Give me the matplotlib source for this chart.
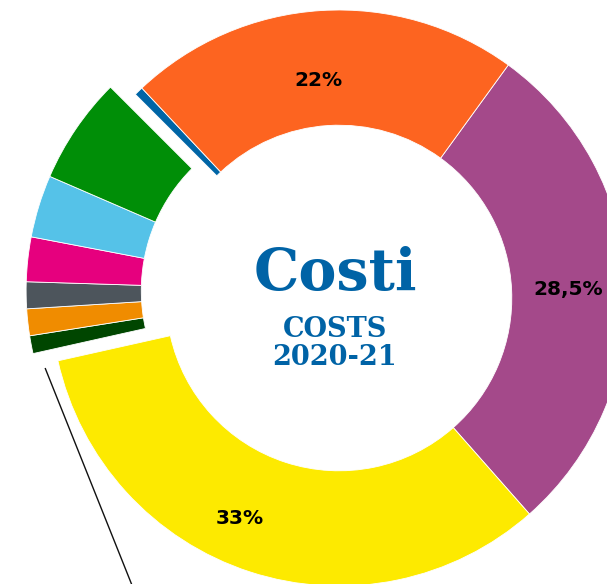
import numpy as np
import matplotlib
matplotlib.use("Agg")
import matplotlib.pyplot as plt

# ---- data ----
categories = ["Purple", "Yellow", "DarkGreen", "SmallOrange", "Gray",
              "Pink", "LightBlue", "Green", "Blue", "Orange"]
values = [28.5, 33, 1, 1.5, 1.5, 2.5, 3.5, 6, 0.5, 22]
colors = ["#a4498a", "#fdea00", "#004600", "#f08c00", "#4d555c",
          "#e6007e", "#55c2e8", "#008e07", "#0065a6", "#fd6420"]
labeled = ["Purple", "Yellow", "Orange"]
group = ["DarkGreen", "SmallOrange", "Gray", "Pink", "LightBlue", "Green"]

title_main = "Costi"
title_sub = ["COSTS", "2020-21"]


def pct_text(v):
    if float(v).is_integer():
        return f"{int(v)}%"
    return f"{v}".replace(".", ",") + "%"


fig = plt.figure(figsize=(6.07, 5.84), dpi=100)
ax = fig.add_axes([0, 0, 1, 1])

wedges, _ = ax.pie(values, colors=colors, startangle=54, counterclock=False,
                   radius=1.0,
                   wedgeprops=dict(width=0.40, edgecolor="white", linewidth=0.6))

# group explode of the small slices
gidx = [categories.index(c) for c in group]
t_lo = min(wedges[i].theta1 for i in gidx)
t_hi = max(wedges[i].theta2 for i in gidx)
gmid = np.deg2rad((t_lo + t_hi) / 2)
gexp = 0.09
for i in gidx:
    wedges[i].set_center((gexp * np.cos(gmid), gexp * np.sin(gmid)))

# percentage labels
label_place = {"Purple": (0.796, -0.7), "Yellow": (0.84, -6.2), "Orange": (0.76, 1.9)}
for c in labeled:
    i = categories.index(c)
    w = wedges[i]
    r, off = label_place[c]
    a = np.deg2rad((w.theta1 + w.theta2) / 2 + off)
    ax.text(r * np.cos(a), r * np.sin(a), pct_text(values[i]),
            ha="center", va="center", fontsize=14.5, fontweight="bold",
            color="black", family="DejaVu Sans")

# leader line from the lower edge of the exploded group downwards
a0 = np.deg2rad(t_hi + 0.8)
x0, y0 = 1.049 * np.cos(a0), 1.049 * np.sin(a0)
ax.plot([x0, x0 + 0.6], [y0, y0 - 1.5], color="#111111", lw=1.0,
        solid_capstyle="butt")

# centre text
blue = "#0063a6"
ax.text(-0.012, 0.028, title_main, ha="center", va="baseline",
        fontsize=41, fontweight="bold", family="DejaVu Serif", color=blue)
ax.text(-0.014, -0.136, title_sub[0], ha="center", va="baseline",
        fontsize=19.5, fontweight="bold", family="DejaVu Serif", color=blue)
ax.text(-0.014, -0.232, title_sub[1], ha="center", va="baseline",
        fontsize=19.5, fontweight="bold", family="DejaVu Serif", color=blue)

ax.set_aspect("auto")
ax.set_xlim(-339 / 288, 268 / 288)
ax.set_ylim(-286 / 288, 298 / 288)
ax.axis("off")

fig.savefig("out.png", dpi=100, facecolor="white")
